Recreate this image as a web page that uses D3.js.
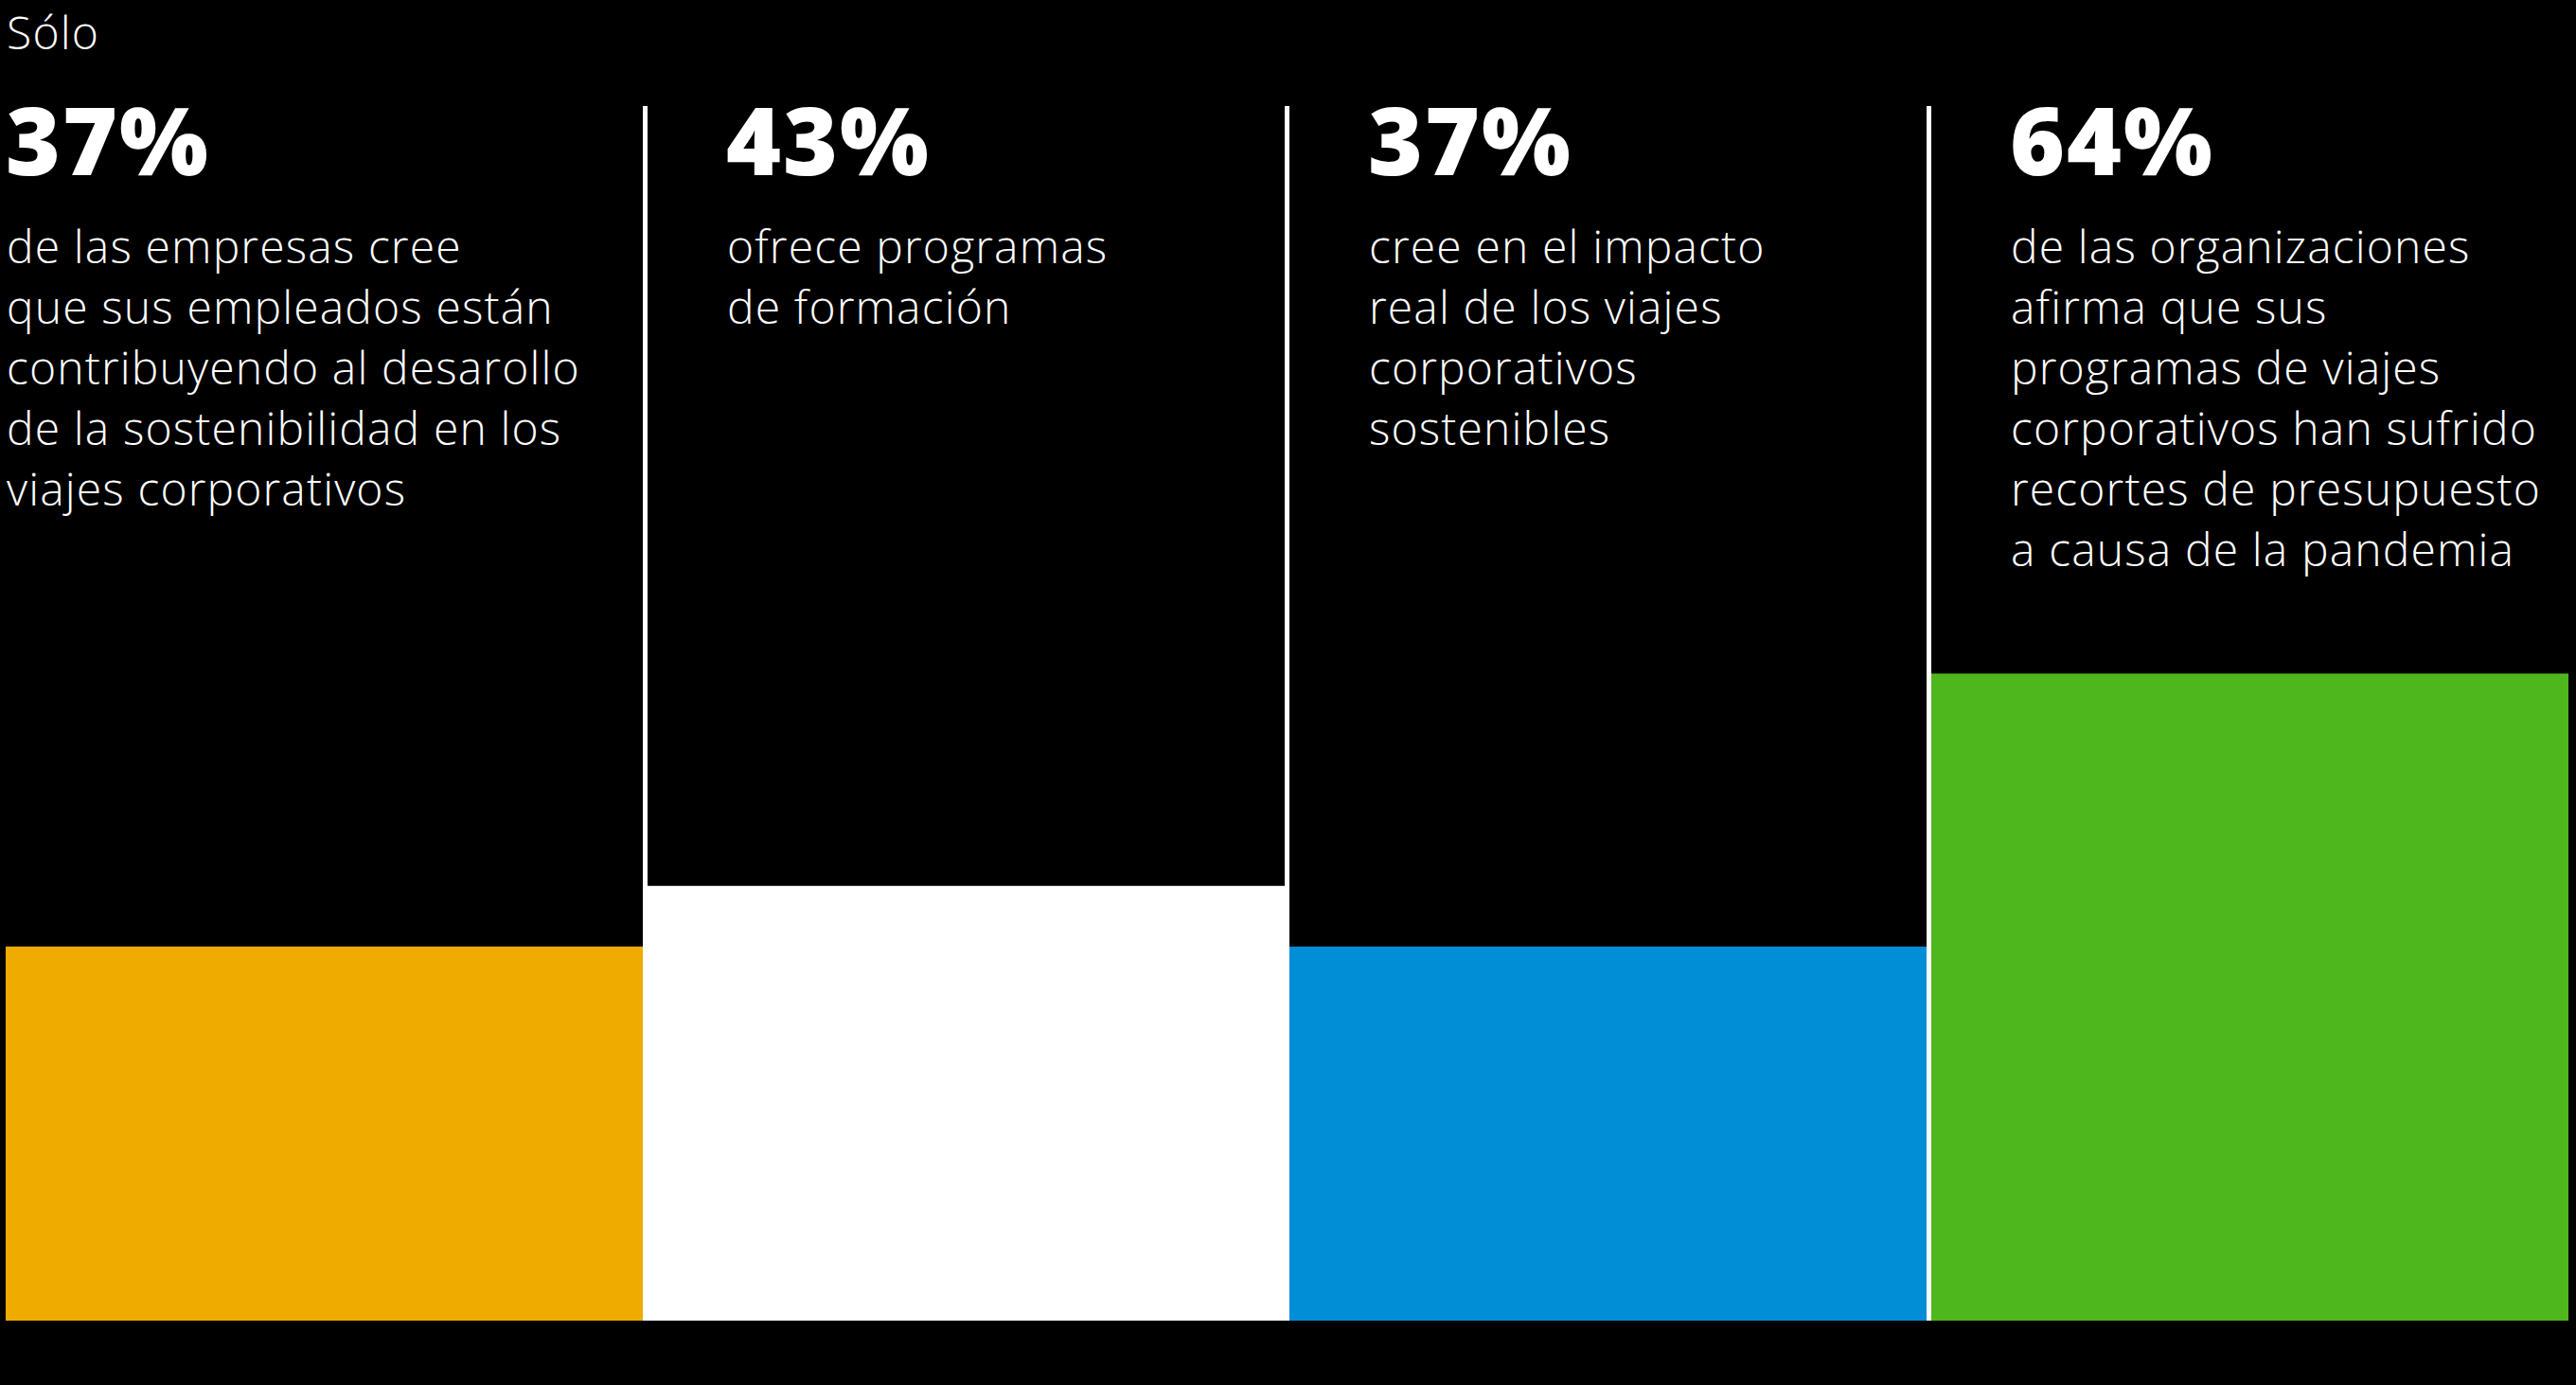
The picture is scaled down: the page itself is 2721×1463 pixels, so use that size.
<!DOCTYPE html>
<html lang="es">
<head>
<meta charset="utf-8">
<script src="https://cdn.jsdelivr.net/npm/d3@7"></script>
<style>
  html, body { margin: 0; padding: 0; background: #000; }
  svg { display: block; }
  text { font-family: "Open Sans", "DejaVu Sans", sans-serif; fill: #fff; }
</style>
</head>
<body>
<svg id="chart"></svg>
<script>
// ---- data ----
const intro = "Sólo";
const categories = ["empresas_empleados", "formacion", "impacto_real", "recortes"];
const values = [37, 43, 37, 64];
const valueLabels = ["37%", "43%", "37%", "64%"];
const descriptions = [
  ["de las empresas cree", "que sus empleados están", "contribuyendo al desarollo", "de la sostenibilidad en los", "viajes corporativos"],
  ["ofrece programas", "de formación"],
  ["cree en el impacto", "real de los viajes", "corporativos", "sostenibles"],
  ["de las organizaciones", "afirma que sus", "programas de viajes", "corporativos han sufrido", "recortes de presupuesto", "a causa de la pandemia"]
];

// ---- style ----
const W = 2721, H = 1463;
const barColors = ["#EFAB00", "#FFFFFF", "#018ED6", "#4FB71E"];

const svg = d3.select("#chart").attr("width", W).attr("height", H);
svg.append("rect").attr("width", W).attr("height", H).attr("fill", "#000");

const x = d3.scaleBand().domain(categories).range([6, 2713]).paddingInner(5 / 678).paddingOuter(0);
const y = d3.scaleLinear().domain([0, 100]).range([1395, 327]);

// separators
svg.selectAll("rect.sep")
  .data(categories.slice(1))
  .join("rect")
  .attr("class", "sep")
  .attr("x", d => x(d) - x.step() * x.paddingInner() / 2 - 2.5)
  .attr("y", 112)
  .attr("width", 5)
  .attr("height", y(0) - 112)
  .attr("fill", "#fff");

// bars
svg.selectAll("rect.bar")
  .data(values)
  .join("rect")
  .attr("class", "bar")
  .attr("x", (d, i) => x(categories[i]))
  .attr("y", d => y(d))
  .attr("width", x.bandwidth())
  .attr("height", d => y(0) - y(d))
  .attr("fill", (d, i) => barColors[i]);

// intro
svg.append("text")
  .attr("x", 7).attr("y", 52)
  .attr("font-size", 48).attr("font-weight", 300)
  .attr("letter-spacing", 1.2)
  .text(intro);

const textX = i => x(categories[i]) + (i === 0 ? 1 : 84);

// big numbers
svg.selectAll("text.big")
  .data(valueLabels)
  .join("text")
  .attr("class", "big")
  .attr("x", (d, i) => textX(i) - 1)
  .attr("y", 185)
  .attr("font-size", 99)
  .attr("font-weight", 800)
  .attr("letter-spacing", 2)
  .text(d => d);

// descriptions
const g = svg.selectAll("text.desc")
  .data(descriptions)
  .join("text")
  .attr("class", "desc")
  .attr("font-size", 48)
  .attr("font-weight", 300)
  .attr("letter-spacing", 1.15);
g.each(function(lines, i) {
  d3.select(this).selectAll("tspan")
    .data(lines)
    .join("tspan")
    .attr("x", textX(i))
    .attr("y", (d, j) => 278 + j * 64)
    .text(d => d);
});
</script>
</body>
</html>
